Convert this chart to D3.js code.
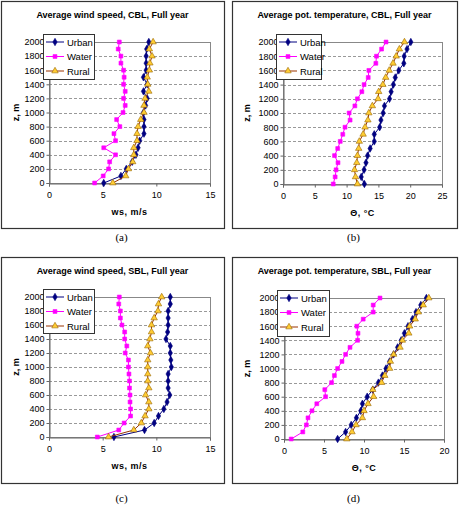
<!DOCTYPE html>
<html>
<head>
<meta charset="utf-8" />
<script src="https://d3js.org/d3.v7.min.js"></script>
<style>
    body { margin: 0; background: #fff; }
</style>
</head>
<body>
<svg id="chart" width="461" height="507"></svg>
<script>
// heights (m)
var heights = [0, 100, 200, 300, 400, 500, 600, 700, 800, 900, 1000,
               1100, 1200, 1300, 1400, 1500, 1600, 1700, 1800, 1900, 2000];
var seriesNames = ["Urban", "Water", "Rural"];
var zTicks = [0, 200, 400, 600, 800, 1000, 1200, 1400, 1600, 1800, 2000];

// (a) wind speed, CBL
var wsCblUrban = [5.1, 6.7, 7.2, 7.75, 8.1, 8.3, 8.45, 8.85, 8.85, 8.85, 8.8, 9.0, 9.15, 8.8, 9.15, 8.8, 9.05, 9.05, 9.05, 9.1, 9.3];
var wsCblWater = [4.25, 5.05, 5.55, 5.65, 6.2, 5.1, 6.2, 6.05, 6.6, 6.3, 6.9, 7.1, 6.95, 7.1, 6.95, 7.0, 6.95, 6.7, 6.7, 6.45, 6.55];
var wsCblRural = [5.95, 7.15, 7.4, 7.8, 7.9, 7.9, 8.2, 8.2, 8.3, 8.55, 8.85, 8.85, 8.95, 9.3, 9.2, 9.15, 9.35, 9.4, 9.6, 9.35, 9.7];

// (b) potential temperature, CBL
var thCblUrban = [12.8, 12.3, 12.75, 13.05, 13.3, 13.7, 14.35, 14.35, 15.2, 15.4, 15.75, 15.95, 16.75, 17.0, 17.35, 17.65, 18.2, 19.0, 19.05, 19.5, 20.1];
var thCblWater = [7.9, 8.2, 8.35, 8.65, 8.1, 8.6, 9.0, 9.4, 9.75, 10.55, 10.4, 11.3, 11.7, 12.4, 12.75, 13.4, 13.5, 14.6, 14.7, 15.5, 16.2];
var thCblRural = [11.7, 11.4, 11.25, 11.6, 11.7, 11.9, 12.0, 12.6, 12.9, 13.35, 13.5, 14.05, 14.95, 15.05, 15.7, 16.15, 16.7, 17.3, 17.8, 18.3, 19.1];

// (c) wind speed, SBL
var wsSblUrban = [6.05, 8.9, 9.8, 10.2, 10.7, 11.0, 11.25, 11.1, 11.1, 11.1, 11.4, 11.35, 11.3, 11.3, 10.9, 11.05, 11.1, 11.1, 11.1, 11.3, 11.3];
var wsSblWater = [4.5, 6.5, 7.0, 7.6, 7.6, 7.55, 7.55, 7.5, 7.5, 7.45, 7.4, 7.4, 7.1, 7.25, 7.05, 7.05, 6.8, 6.65, 6.65, 6.5, 6.55];
var wsSblRural = [5.55, 7.9, 8.6, 8.95, 9.3, 9.3, 9.0, 9.3, 9.2, 9.2, 9.2, 9.2, 9.45, 9.2, 9.4, 9.55, 9.55, 9.8, 10.15, 10.2, 10.5];

// (d) potential temperature, SBL
var thSblUrban = [6.7, 7.7, 8.4, 9.05, 9.6, 9.8, 10.4, 11.1, 11.8, 12.3, 12.75, 13.2, 13.7, 14.2, 14.65, 15.05, 15.5, 16.05, 16.5, 17.1, 17.8];
var thSblWater = [0.9, 2.35, 2.8, 3.0, 3.5, 4.1, 5.2, 5.1, 5.95, 6.3, 6.7, 7.25, 7.7, 8.25, 9.2, 9.25, 9.1, 9.9, 11.15, 11.15, 12.0];
var thSblRural = [7.85, 8.5, 9.0, 9.8, 10.0, 10.5, 11.2, 11.1, 12.2, 12.6, 13.2, 13.3, 13.7, 14.5, 14.8, 15.6, 15.7, 16.4, 16.8, 17.4, 18.1];

var wsTicks = [0, 5, 10, 15];
var thTicksB = [0, 5, 10, 15, 20, 25];
var thTicksD = [0, 5, 10, 15, 20];

var SANS = "'Liberation Sans', Arial, sans-serif";
var SERIF = "'Liberation Serif', 'Times New Roman', serif";

var styles = [
    { line: "#000080", fill: "#000080", stroke: "#000080", shape: d3.symbolDiamond, size: 16 },
    { line: "#ff00ff", fill: "#ff00ff", stroke: "#ff00ff", shape: d3.symbolSquare, size: 15 },
    { line: "#993300", fill: "#ffcc33", stroke: "#996600", shape: d3.symbolTriangle, size: 18 }
];

var svg = d3.select("#chart");

var panels = [
    { box: [1, 1, 223, 227], plot: [49, 42, 210, 183], title: "Average wind speed, CBL, Full year",
      xlabel: "ws, m/s", xmax: 15, xticks: wsTicks, series: [wsCblUrban, wsCblWater, wsCblRural],
      legend: [43, 34, 51, 45], caption: "(a)", capY: 241 },
    { box: [232, 1, 225, 227], plot: [283, 42, 442, 184], title: "Average pot. temperature, CBL, Full year",
      xlabel: "\u0398, \u00b0C", xmax: 25, xticks: thTicksB, series: [thCblUrban, thCblWater, thCblRural],
      legend: [276, 34, 45, 45], caption: "(b)", capY: 241 },
    { box: [1, 257, 223, 226], plot: [49, 297, 210, 437], title: "Average wind speed, SBL, Full year",
      xlabel: "ws, m/s", xmax: 15, xticks: wsTicks, series: [wsSblUrban, wsSblWater, wsSblRural],
      legend: [43, 289, 51, 44], caption: "(c)", capY: 502 },
    { box: [232, 257, 225, 226], plot: [284, 298, 444, 439], title: "Average pot. temperature, SBL, Full year",
      xlabel: "\u0398, \u00b0C", xmax: 20, xticks: thTicksD, series: [thSblUrban, thSblWater, thSblRural],
      legend: [277, 290, 52, 46], caption: "(d)", capY: 502 }
];

panels.forEach(function(p) {
    var g = svg.append("g");
    var bx = p.box;

    g.append("rect")
        .attr("x", bx[0] + 0.5).attr("y", bx[1] + 0.5)
        .attr("width", bx[2]).attr("height", bx[3])
        .attr("fill", "#fff").attr("stroke", "#333").attr("stroke-width", 1.2);

    g.append("text")
        .attr("x", bx[0] + bx[2] / 2).attr("y", bx[1] + 16.5)
        .attr("text-anchor", "middle")
        .style("font-family", SANS).style("font-size", "9px").style("font-weight", "bold")
        .text(p.title);

    var x = d3.scaleLinear().domain([0, p.xmax]).range([p.plot[0], p.plot[2]]);
    var y = d3.scaleLinear().domain([0, 2000]).range([p.plot[3], p.plot[1]]);

    // dashed gridlines
    g.selectAll(".grid").data(zTicks.slice(1, -1)).enter().append("line")
        .attr("x1", p.plot[0]).attr("x2", p.plot[2])
        .attr("y1", function(d) { return Math.round(y(d)) + 0.5; })
        .attr("y2", function(d) { return Math.round(y(d)) + 0.5; })
        .attr("stroke", "#999").attr("stroke-dasharray", "3,2");

    // plot frame
    g.append("rect")
        .attr("x", p.plot[0] + 0.5).attr("y", p.plot[1] + 0.5)
        .attr("width", p.plot[2] - p.plot[0]).attr("height", p.plot[3] - p.plot[1])
        .attr("fill", "none").attr("stroke", "#888");

    var xAxis = g.append("g")
        .attr("transform", "translate(0," + (Math.round(p.plot[3]) + 0.5) + ")")
        .call(d3.axisBottom(x).tickValues(p.xticks).tickFormat(d3.format("d")).tickSize(3).tickPadding(5));
    var yAxis = g.append("g")
        .attr("transform", "translate(" + (Math.round(p.plot[0]) + 0.5) + ",0)")
        .call(d3.axisLeft(y).tickValues(zTicks).tickFormat(d3.format("d")).tickSize(3).tickPadding(2));
    [xAxis, yAxis].forEach(function(a) {
        a.attr("font-family", null).attr("font-size", null);
        a.select(".domain").attr("stroke", "#666");
        a.selectAll(".tick line").attr("stroke", "#666");
        a.selectAll(".tick text")
            .style("font-family", SANS).style("font-size", "9px").attr("fill", "#000");
    });

    g.append("text")
        .attr("x", (p.plot[0] + p.plot[2]) / 2).attr("y", p.plot[3] + 32)
        .attr("text-anchor", "middle")
        .style("font-family", SANS).style("font-size", "9px").style("font-weight", "bold")
        .style("letter-spacing", "0.5px")
        .text(p.xlabel);

    g.append("text")
        .attr("transform", "translate(" + (bx[0] + 18) + "," + ((p.plot[1] + p.plot[3]) / 2) + ") rotate(-90)")
        .attr("text-anchor", "middle")
        .style("font-family", SANS).style("font-size", "9px").style("font-weight", "bold")
        .text("z, m");

    var line = d3.line()
        .x(function(d) { return x(d[0]); })
        .y(function(d) { return y(d[1]); });

    p.series.forEach(function(vals, si) {
        var st = styles[si];
        var pts = vals.map(function(v, i) { return [v, heights[i]]; });
        g.append("path").datum(pts)
            .attr("d", line).attr("fill", "none")
            .attr("stroke", st.line).attr("stroke-width", 1);
        g.selectAll(".m" + si).data(pts).enter().append("path")
            .attr("class", "m" + si)
            .attr("transform", function(d) { return "translate(" + x(d[0]) + "," + y(d[1]) + ")"; })
            .attr("d", d3.symbol().type(st.shape).size(st.size))
            .attr("fill", st.fill).attr("stroke", st.stroke).attr("stroke-width", 0.6);
    });

    // legend
    var lg = g.append("g");
    var L = p.legend;
    lg.append("rect").attr("x", L[0] + 0.5).attr("y", L[1] + 0.5)
        .attr("width", L[2]).attr("height", L[3])
        .attr("fill", "#fff").attr("stroke", "#333");
    seriesNames.forEach(function(name, si) {
        var st = styles[si];
        var ly = L[1] + 8 + si * 14.5;
        lg.append("line").attr("x1", L[0] + 3).attr("x2", L[0] + 21)
            .attr("y1", ly).attr("y2", ly)
            .attr("stroke", st.line).attr("stroke-width", 1);
        lg.append("path")
            .attr("transform", "translate(" + (L[0] + 12) + "," + ly + ")")
            .attr("d", d3.symbol().type(st.shape).size(st.size))
            .attr("fill", st.fill).attr("stroke", st.stroke).attr("stroke-width", 0.6);
        lg.append("text").attr("x", L[0] + 24).attr("y", ly + 3.5)
            .style("font-family", SANS).style("font-size", "9.5px")
            .text(name);
    });

    svg.append("text")
        .attr("x", bx[0] + bx[2] / 2 + 9).attr("y", p.capY)
        .attr("text-anchor", "middle")
        .style("font-family", SERIF).style("font-size", "11px")
        .text(p.caption);
});
</script>
</body>
</html>
